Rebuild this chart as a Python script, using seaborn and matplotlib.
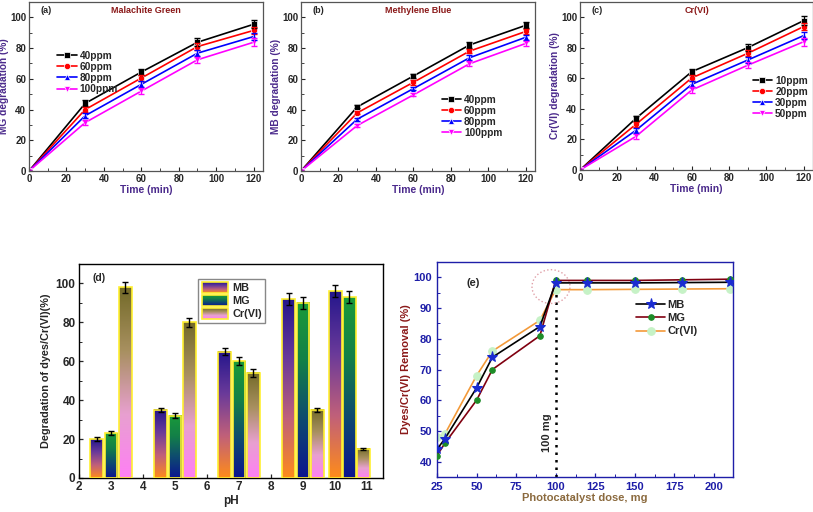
import numpy as np
import pandas as pd
import matplotlib.pyplot as plt
import seaborn as sns
from matplotlib.colors import LinearSegmentedColormap, to_hex
from matplotlib.patches import Ellipse, Rectangle
from matplotlib.legend_handler import HandlerBase
from matplotlib.image import BboxImage
from matplotlib.transforms import Bbox, TransformedBbox
from matplotlib.ticker import MultipleLocator

# ---- data: degradation vs time ----
time = [0, 30, 60, 90, 120]

mg_conc = ["40ppm", "60ppm", "80ppm", "100ppm"]
mg_vals = [[0, 44, 64.4, 83.8, 95.5],
           [0, 40, 60.5, 81, 91.5],
           [0, 36, 56.4, 76.7, 87.5],
           [0, 31.5, 52, 72.4, 83.8]]
mg_err = [[0, 2, 2, 2.5, 2.5],
          [0, 1.5, 2, 2, 2.5],
          [0, 1.5, 2, 2, 2.5],
          [0, 1.5, 2, 2, 2.5]]

mb_conc = ["40ppm", "60ppm", "80ppm", "100ppm"]
mb_vals = [[0, 41.7, 61.8, 82, 94.8],
           [0, 37.8, 57.7, 78, 90.8],
           [0, 33.7, 53.6, 73.7, 87],
           [0, 29.6, 49.5, 69.8, 83]]
mb_err = [[0, 1, 1.5, 2, 2],
          [0, 1, 1.5, 1.5, 1.5],
          [0, 1, 1, 1.5, 1.5],
          [0, 1, 1, 1.5, 1.5]]

cr_conc = ["10ppm", "20ppm", "30ppm", "50ppm"]
cr_vals = [[0, 33.8, 64.4, 80.1, 97.8],
           [0, 29.9, 60.3, 76.4, 93.9],
           [0, 26, 56.1, 72, 88],
           [0, 22, 52.4, 68.6, 84]]
cr_err = [[0, 1.5, 2, 2.5, 3],
          [0, 1.5, 2, 2, 2.5],
          [0, 1.5, 2, 2, 2.5],
          [0, 1.5, 2, 2, 2.5]]

# ---- data: effect of pH ----
ph_pos = [3, 5, 7, 9, 10.45]
ph_species = ["MB", "MG", "Cr(VI)"]
ph_mb = [20, 35, 65, 92, 96]
ph_mg = [23, 32, 60, 90, 93]
ph_cr = [98, 80, 54, 35, 15]
ph_mb_err = [1, 1.2, 2, 3, 3]
ph_mg_err = [1, 1.2, 2, 3, 3]
ph_cr_err = [3, 2.5, 2, 1.2, 0.6]

# ---- data: effect of dose ----
dose = [25, 30, 50, 60, 90, 100, 120, 150, 180, 210]
dose_mb = [44, 47.5, 64, 74, 84, 98.2, 98.2, 98.2, 98.3, 98.4]
dose_mg = [42, 46, 60, 70, 81, 99, 99, 99, 99.2, 99.4]
dose_cr = [48, 49, 68, 76, 86, 96, 96, 96.1, 96.2, 96.3]
opt_dose = 100

sns.set_theme(style="ticks")
plt.rcParams["font.family"] = ["Liberation Sans", "DejaVu Sans"]
plt.rcParams["font.weight"] = "bold"
plt.rcParams["axes.labelweight"] = "bold"
plt.rcParams["xtick.direction"] = "in"
plt.rcParams["ytick.direction"] = "in"
plt.rcParams["xtick.minor.visible"] = True
plt.rcParams["ytick.minor.visible"] = True

W, H = 813, 512
fig = plt.figure(figsize=(W / 100, H / 100), dpi=100)


def px_axes(left, top, right, bottom):
    return fig.add_axes([left / W, 1 - bottom / H, (right - left) / W, (bottom - top) / H])


line_colors = ["black", "red", "blue", "magenta"]
line_marks = ["s", "o", "^", "v"]
purple = "#4B2A8C"
darkred = "#8B1A1A"


def time_panel(ax, conc, vals, errs, tag, title, ylabel, leg_pos):
    df = pd.DataFrame({
        "Time": np.tile(time, len(conc)),
        "Deg": np.concatenate(vals),
        "Conc": np.repeat(conc, len(time)),
    })
    pal = dict(zip(conc, line_colors))
    mk = dict(zip(conc, line_marks))
    sns.lineplot(data=df, x="Time", y="Deg", hue="Conc", style="Conc", palette=pal,
                 markers=mk, dashes=False, markersize=4.5, markeredgewidth=0.5,
                 linewidth=1.2, ax=ax)
    for c, v, e in zip(conc, vals, errs):
        ax.errorbar(time, v, yerr=e, fmt="none", ecolor=pal[c], elinewidth=0.9, capsize=2)
    h, l = ax.get_legend_handles_labels()
    ax.legend(h, l, loc="upper left", bbox_to_anchor=leg_pos, frameon=False,
              handlelength=1.9, labelspacing=0.1, borderpad=0,
              handletextpad=0.3, prop={"weight": "bold", "size": 7.3})
    ax.set_xlim(0, 125)
    ax.set_ylim(0, 110)
    ax.xaxis.set_major_locator(MultipleLocator(20))
    ax.xaxis.set_minor_locator(MultipleLocator(10))
    ax.yaxis.set_major_locator(MultipleLocator(20))
    ax.yaxis.set_minor_locator(MultipleLocator(10))
    ax.tick_params(labelsize=7, length=3, width=0.8, pad=2)
    ax.tick_params(which="minor", length=2, width=0.6)
    for lab in ax.get_xticklabels() + ax.get_yticklabels():
        lab.set_fontweight("bold")
    ax.set_xlabel("Time (min)", color=purple, fontsize=7.5, labelpad=1)
    ax.set_ylabel(ylabel, color=purple, fontsize=7.3, labelpad=0.5)
    ax.text(0.05, 0.95, tag, transform=ax.transAxes, fontsize=6.5, fontweight="bold",
            va="center")
    ax.text(0.5, 0.95, title, transform=ax.transAxes, fontsize=6.5, fontweight="bold",
            color=darkred, ha="center", va="center")
    for s in ax.spines.values():
        s.set_color("#555555")
        s.set_linewidth(0.9)


ax_a = px_axes(29, 2, 263, 171)
time_panel(ax_a, mg_conc, mg_vals, mg_err, "(a)", "Malachite Green", "MG degradation (%)", (0.1, 0.74))
ax_b = px_axes(301, 2, 535, 171)
time_panel(ax_b, mb_conc, mb_vals, mb_err, "(b)", "Methylene Blue", "MB degradation (%)", (0.58, 0.48))
ax_c = px_axes(580, 2, 813, 170)
time_panel(ax_c, cr_conc, cr_vals, cr_err, "(c)", "Cr(VI)", "Cr(VI) degradation (%)", (0.72, 0.59))

# ---- (d) pH bars with gradient fills ----
ax_d = px_axes(79, 264, 383, 478)
df_ph = pd.DataFrame({
    "pH": np.tile(ph_pos, 3),
    "Deg": ph_mb + ph_mg + ph_cr,
    "Species": np.repeat(ph_species, len(ph_pos)),
})
key_colors = {"MB": "#5A3A90", "MG": "#106050", "Cr(VI)": "#C080B0"}
sns.barplot(data=df_ph, x="pH", y="Deg", hue="Species", palette=key_colors,
            native_scale=True, width=0.91, gap=0.08, legend=False, ax=ax_d,
            saturation=1, edgecolor="#FFF030", linewidth=1.2)

grad_maps = {
    "MB": LinearSegmentedColormap.from_list("mb", ["#FF8C1A", "#C0607A", "#6A3A9A", "#24168C"]),
    "MG": LinearSegmentedColormap.from_list("mg", ["#0C1490", "#0E4A70", "#138048", "#1A9A3A"]),
    "Cr(VI)": LinearSegmentedColormap.from_list("cr", ["#FF7FF5", "#E8A0D0", "#A89060", "#736A28"]),
}
errs = {"MB": ph_mb_err, "MG": ph_mg_err, "Cr(VI)": ph_cr_err}
grad = np.linspace(0, 1, 256).reshape(-1, 1)
bars = {k: [] for k in ph_species}
for p in ax_d.patches:
    fc = to_hex(p.get_facecolor())
    for k, c in key_colors.items():
        if fc.lower() == c.lower():
            bars[k].append(p)
for k in ph_species:
    bs = sorted(bars[k], key=lambda p: p.get_x())
    xs, hs = [], []
    for p in bs:
        x0, w, h = p.get_x(), p.get_width(), p.get_height()
        p.set_facecolor("none")
        p.set_zorder(3)
        ax_d.imshow(grad, extent=[x0, x0 + w, 0, h], origin="lower", aspect="auto",
                    cmap=grad_maps[k], zorder=2, interpolation="bilinear")
        xs.append(x0 + w / 2)
        hs.append(h)
    if xs:
        ax_d.errorbar(xs, hs, yerr=errs[k][:len(xs)], fmt="none", ecolor="black",
                      elinewidth=1, capsize=2.5, capthick=1, zorder=4)

ax_d.set_xlim(2, 11.5)
ax_d.set_ylim(0, 110)
ax_d.xaxis.set_major_locator(MultipleLocator(1))
ax_d.xaxis.set_minor_locator(MultipleLocator(0.5))
ax_d.yaxis.set_major_locator(MultipleLocator(20))
ax_d.yaxis.set_minor_locator(MultipleLocator(10))
ax_d.tick_params(labelsize=8.5, length=3, width=0.9, pad=2.5)
ax_d.tick_params(which="minor", length=2, width=0.7)
for lab in ax_d.get_xticklabels() + ax_d.get_yticklabels():
    lab.set_fontweight("bold")
ax_d.set_xlabel("pH", fontsize=8.5, labelpad=1)
ax_d.set_ylabel("Degradation of dyes/Cr(VI)(%)", fontsize=7.8, labelpad=3)
ax_d.text(0.045, 0.935, "(d)", transform=ax_d.transAxes, fontsize=7.5, fontweight="bold",
          va="center")
for s in ax_d.spines.values():
    s.set_color("black")
    s.set_linewidth(1)


class GradHandler(HandlerBase):
    def __init__(self, cmap):
        super().__init__()
        self.cmap = cmap

    def create_artists(self, legend, orig_handle, xdescent, ydescent, width, height,
                       fontsize, trans):
        bb = TransformedBbox(Bbox.from_bounds(-xdescent, -ydescent, width, height), trans)
        img = BboxImage(bb, cmap=self.cmap, interpolation="bilinear", origin="lower")
        img.set_data(grad)
        rect = Rectangle((-xdescent, -ydescent), width, height, fc="none",
                         ec="#FFF030", lw=1.2, transform=trans)
        return [img, rect]


proxies = [Rectangle((0, 0), 1, 1) for _ in ph_species]
leg = ax_d.legend(proxies, ph_species, loc="upper left", bbox_to_anchor=(0.375, 0.955),
                  handler_map={p: GradHandler(grad_maps[k]) for p, k in zip(proxies, ph_species)},
                  fancybox=False, edgecolor="#888888", framealpha=1, borderpad=0.3,
                  handlelength=2.4, handleheight=1.1, labelspacing=0.2, handletextpad=0.4,
                  prop={"weight": "bold", "size": 7.8})

# ---- (e) dose ----
ax_e = px_axes(437, 262, 733, 477)
blue = "#1E1EA8"
sns.lineplot(x=dose, y=dose_mb, color="black", marker="*", markersize=8,
             markerfacecolor="#1A2CD0", markeredgecolor="#1A2CD0", linewidth=1.2,
             label="MB", ax=ax_e, zorder=4)
sns.lineplot(x=dose, y=dose_mg, color="#800010", marker="o", markersize=4,
             markerfacecolor="#1E8C28", markeredgecolor="#1E8C28", linewidth=1.2,
             label="MG", ax=ax_e, zorder=3)
sns.lineplot(x=dose, y=dose_cr, color="#F39A3A", marker="o", markersize=5.5,
             markerfacecolor="#C6F2C6", markeredgecolor="#C6F2C6", linewidth=1.2,
             label="Cr(VI)", ax=ax_e, zorder=2)
ax_e.set_xlim(25, 212)
ax_e.set_ylim(35, 105)
ax_e.axvline(opt_dose, ymin=0, ymax=(96.5 - 35) / 70, color="black", ls=(0, (1, 2)),
             lw=1.8, zorder=1)
ax_e.text(opt_dose - 5.5, 49.5, "100 mg", rotation=90, ha="center", va="center",
          fontsize=8, fontweight="bold")
ax_e.add_patch(Ellipse((97, 97), 24, 11, fill=False, ec="#E0A0A8", ls=":", lw=1))
h, l = ax_e.get_legend_handles_labels()
ax_e.legend(h, l, loc="upper left", bbox_to_anchor=(0.655, 0.85), frameon=False,
            handlelength=2.6, labelspacing=0.3, handletextpad=0.2, borderpad=0,
            prop={"weight": "bold", "size": 8})
ax_e.xaxis.set_major_locator(MultipleLocator(25))
ax_e.xaxis.set_minor_locator(MultipleLocator(12.5))
ax_e.yaxis.set_major_locator(MultipleLocator(10))
ax_e.yaxis.set_minor_locator(MultipleLocator(5))
ax_e.tick_params(labelsize=8, length=3, width=0.9, colors=blue)
ax_e.tick_params(which="minor", length=2, width=0.7, colors=blue)
for lab in ax_e.get_xticklabels() + ax_e.get_yticklabels():
    lab.set_fontweight("bold")
ax_e.set_xlabel("Photocatalyst dose, mg", color="#8B6A3E", fontsize=8, labelpad=1)
ax_e.set_ylabel("Dyes/Cr(VI) Removal (%)", color=darkred, fontsize=8, labelpad=2)
ax_e.text(0.1, 0.9, "(e)", transform=ax_e.transAxes, fontsize=8, fontweight="bold",
          va="center")
for s in ax_e.spines.values():
    s.set_color(blue)
    s.set_linewidth(1)

fig.savefig("out.png", dpi=100)
